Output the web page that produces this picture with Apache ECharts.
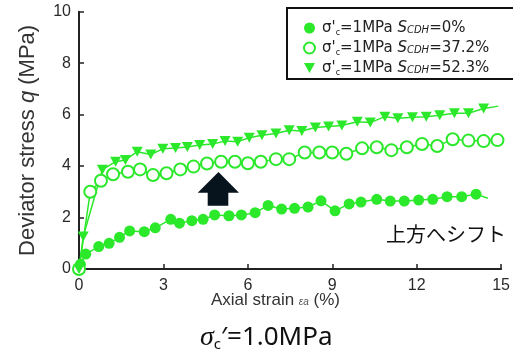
<!DOCTYPE html>
<html>
<head>
<meta charset="utf-8">
<script src="https://cdn.jsdelivr.net/npm/echarts@6/dist/echarts.min.js"></script>
<style>html,body{margin:0;padding:0;background:#fff;}#c{width:513px;height:356px;}</style>
</head>
<body>
<div id="c"></div>
<script>
// Axial strain (%) and deviator stress q (MPa)
var s0Strain = [0, 0.05, 0.24, 0.7, 1.07, 1.44, 1.8, 2.32, 2.71, 3.26, 3.57, 4.01, 4.41, 4.82, 5.33, 5.77, 6.26, 6.72, 7.2, 7.66, 8.14, 8.6, 9.1, 9.6, 10.02, 10.58, 11.06, 11.56, 12.07, 12.57, 13.08, 13.6, 14.11];
var s0Stress = [0, 0.18, 0.58, 0.87, 1.0, 1.23, 1.48, 1.45, 1.6, 1.93, 1.78, 1.88, 1.93, 2.1, 2.07, 2.1, 2.19, 2.47, 2.33, 2.36, 2.41, 2.65, 2.26, 2.53, 2.6, 2.71, 2.64, 2.64, 2.68, 2.71, 2.81, 2.81, 2.91];
var s0Tail = [14.53, 2.75];

var s37Strain = [0, 0.4, 0.78, 1.21, 1.74, 2.17, 2.63, 3.11, 3.6, 4.07, 4.55, 5.05, 5.54, 6.0, 6.46, 7.0, 7.47, 8.02, 8.54, 9.0, 9.5, 10.06, 10.58, 11.1, 11.65, 12.19, 12.73, 13.28, 13.84, 14.38, 14.87];
var s37Stress = [0, 3.0, 3.43, 3.68, 3.78, 3.87, 3.65, 3.72, 3.87, 3.98, 4.1, 4.17, 4.17, 4.11, 4.17, 4.27, 4.27, 4.53, 4.53, 4.53, 4.48, 4.69, 4.73, 4.62, 4.73, 4.86, 4.78, 5.04, 4.99, 4.97, 5.01];

var s52Strain = [0, 0.15, 0.83, 1.3, 1.65, 2.07, 2.55, 2.98, 3.43, 3.85, 4.29, 4.75, 5.19, 5.64, 6.05, 6.5, 7.0, 7.47, 7.92, 8.4, 8.87, 9.34, 9.89, 10.35, 10.87, 11.33, 11.85, 12.34, 12.82, 13.34, 13.84, 14.38];
var s52Stress = [0, 1.26, 3.86, 4.17, 4.24, 4.56, 4.45, 4.67, 4.7, 4.74, 4.82, 4.86, 4.97, 4.95, 5.1, 5.2, 5.27, 5.39, 5.36, 5.5, 5.54, 5.58, 5.72, 5.69, 5.92, 5.86, 5.9, 5.92, 5.98, 6.05, 6.05, 6.24];
var s52Tail = [14.9, 6.33];

var seriesNames = ['s0', 's37', 's52'];
var legendLabels = [
  "σ'{sub|c}=1MPa {it|S}{sub2|CDH}=0%",
  "σ'{sub|c}=1MPa {it|S}{sub2|CDH}=37.2%",
  "σ'{sub|c}=1MPa {it|S}{sub2|CDH}=52.3%"
];
var xTicks = [0, 3, 6, 9, 12, 15];
var yTicks = [0, 2, 4, 6, 8, 10];

function pairs(xs, ys, tail) {
  var d = xs.map(function (x, i) { return [x, ys[i]]; });
  if (tail) d.push({ value: tail, symbol: 'none' });
  return d;
}

var green = '#2be82b';
var chart = echarts.init(document.getElementById('c'));
var labelMap = {};
seriesNames.forEach(function (n, i) { labelMap[n] = legendLabels[i]; });

chart.setOption({
  animation: false,
  backgroundColor: '#fff',
  grid: { left: 79, right: 0.5, top: 11.7, bottom: 87, containLabel: false },
  xAxis: {
    type: 'value', min: xTicks[0], max: xTicks[xTicks.length - 1], interval: 3,
    axisLine: { lineStyle: { color: '#222', width: 2 } },
    axisTick: { inside: true, length: 5, lineStyle: { color: '#222', width: 1.5 } },
    axisLabel: { margin: 9, color: '#2a2a2a', fontSize: 16, fontFamily: 'Liberation Sans, Arial' },
    splitLine: { show: false }
  },
  yAxis: {
    type: 'value', min: yTicks[0], max: yTicks[yTicks.length - 1], interval: 2,
    name: 'Deviator stress {i|q} (MPa)',
    nameLocation: 'middle', nameGap: 40, nameRotate: 90,
    nameTextStyle: {
      color: '#333', fontSize: 22, fontFamily: 'Liberation Sans, Arial',
      rich: { i: { fontStyle: 'italic', fontSize: 22, color: '#333', fontFamily: 'Liberation Sans, Arial' } }
    },
    axisLine: { show: true, lineStyle: { color: '#222', width: 2 } },
    axisTick: { show: true, inside: true, length: 5, lineStyle: { color: '#222', width: 1.5 } },
    axisLabel: { margin: 8, color: '#2a2a2a', fontSize: 16, fontFamily: 'Liberation Sans, Arial' },
    splitLine: { show: false }
  },
  legend: {
    left: 287, top: 7, orient: 'vertical', z: 10,
    borderWidth: 0,
    padding: [12, 10, 4, 16],
    itemWidth: 11, itemHeight: 11, itemGap: 2,
    data: [
      { name: 's0', icon: 'circle' },
      { name: 's37', icon: 'emptyCircle' },
      { name: 's52', icon: 'path://M0,0 L10,0 L5,9 Z' }
    ],
    formatter: function (n) { return labelMap[n]; },
    textStyle: {
      color: '#222', fontSize: 15, lineHeight: 18, fontFamily: 'DejaVu Sans', padding: [0, 0, 0, 2],
      rich: {
        sub: { fontSize: 8, lineHeight: 18, color: '#222', fontFamily: 'DejaVu Sans', verticalAlign: 'bottom', padding: [6, 0, 0, 0] },
        it: { fontSize: 15, lineHeight: 18, fontStyle: 'italic', color: '#222', fontFamily: 'DejaVu Sans' },
        sub2: { fontSize: 10, lineHeight: 18, fontStyle: 'italic', color: '#222', fontFamily: 'DejaVu Sans', padding: [4, 0, 0, 0] }
      }
    }
  },
  series: [
    {
      name: 's0', type: 'line', data: pairs(s0Strain, s0Stress, s0Tail),
      symbol: 'circle', symbolSize: 11, clip: false,
      itemStyle: { color: green }, lineStyle: { color: green, width: 1.5 }
    },
    {
      name: 's37', type: 'line', data: pairs(s37Strain, s37Stress),
      symbol: 'emptyCircle', symbolSize: 12, clip: false,
      itemStyle: { color: green, borderColor: green, borderWidth: 1.5 }, lineStyle: { color: green, width: 1.5 }
    },
    {
      name: 's52', type: 'line', data: pairs(s52Strain, s52Stress, s52Tail),
      symbol: 'path://M0,0 L10,0 L5,9 Z', symbolSize: [11, 10], clip: false,
      itemStyle: { color: green }, lineStyle: { color: green, width: 1.5 }
    }
  ],
  graphic: [
    {
      type: 'rect', z: 5,
      shape: { x: 287, y: 8, width: 240, height: 71 },
      style: { fill: '#fff', stroke: '#111', lineWidth: 2 }
    },
    {
      type: 'polygon', z: 100,
      shape: { points: [[218.5, 172], [239, 192.7], [228.3, 192.7], [228.3, 205.7], [207.7, 205.7], [207.7, 192.7], [197.7, 192.7]] },
      style: { fill: '#07131d' }
    },
    {
      type: 'text', left: 386, top: 224, z: 100,
      style: { text: '上方へシフト', fill: '#111', font: '20px "Noto Sans CJK JP"' }
    },
    {
      type: 'text', left: 211, top: 292, z: 100,
      style: {
        text: 'Axial strain {e|εa} (%)', fill: '#333', font: '17px "Liberation Sans"',
        rich: { e: { fontSize: 10, fontStyle: 'italic', fill: '#555', fontFamily: 'Liberation Sans', padding: [4, 0, 0, 0] } }
      }
    },
    {
      type: 'text', left: 200, top: 324, z: 100,
      style: {
        text: '{s|σ}{c|c}{n|′=1.0MPa}', fill: '#111',
        rich: {
          s: { fontSize: 28, fontStyle: 'italic', fontFamily: 'Liberation Serif', fill: '#111' },
          c: { fontSize: 15, fontFamily: 'Noto Sans', fill: '#111', verticalAlign: 'bottom', padding: [13, 0, 0, 0] },
          n: { fontSize: 26, fontFamily: 'Noto Sans', fill: '#111' }
        }
      }
    }
  ]
});
</script>
</body>
</html>
